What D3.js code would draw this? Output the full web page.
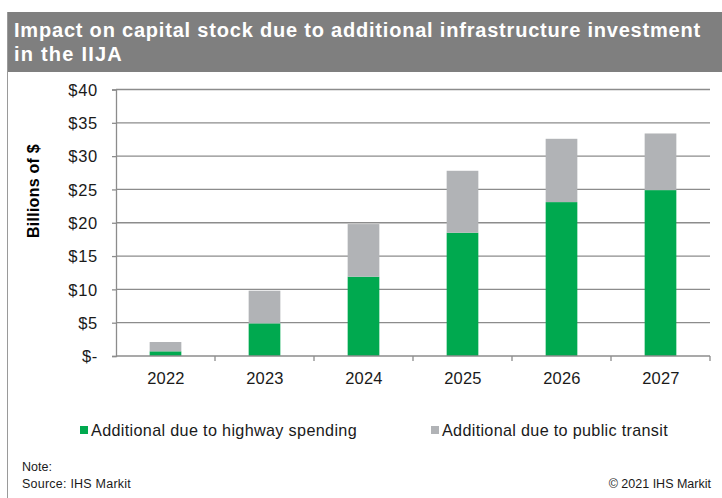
<!DOCTYPE html>
<html>
<head>
<meta charset="utf-8">
<script src="https://cdn.jsdelivr.net/npm/d3@7"></script>
<style>
  html, body { margin: 0; padding: 0; background: #fff; }
  svg { display: block; font-family: "Liberation Sans", Arial, sans-serif; }
</style>
</head>
<body>
<svg id="chart" width="722" height="498"></svg>
<script>
// Years on the category axis
const years = ["2022", "2023", "2024", "2025", "2026", "2027"];
// Billions of dollars added to capital stock
const highway = [0.7, 4.9, 11.9, 18.5, 23.1, 24.9];
const transit = [1.4, 4.9, 7.9, 9.3, 9.5, 8.5];
const seriesNames = ["Additional due to highway spending", "Additional due to public transit"];
const seriesColors = ["#00a94f", "#b1b3b6"];
const yTicks = [0, 5, 10, 15, 20, 25, 30, 35, 40];

const svg = d3.select("#chart");
const W = 722, H = 498;

// Spread a text's letters so it spans the given width
function fitWidth(sel, width) {
  sel.each(function () {
    const n = this.getNumberOfChars();
    const len = this.getComputedTextLength();
    if (n > 1) d3.select(this).attr("letter-spacing", ((width - len) / n).toFixed(3));
  });
}

// Title banner
svg.append("rect").attr("x", 7).attr("y", 12).attr("width", W - 7).attr("height", 60).attr("fill", "#7f7f7f");
svg.append("line").attr("x1", 7.5).attr("x2", 7.5).attr("y1", 12).attr("y2", H)
  .attr("stroke", "#9a9a9a").attr("stroke-width", 1);
const t1 = svg.append("text").attr("x", 14).attr("y", 37).attr("fill", "#fff").attr("font-weight", "bold")
  .attr("font-size", 20).text("Impact on capital stock due to additional infrastructure investment");
const t2 = svg.append("text").attr("x", 14).attr("y", 61).attr("fill", "#fff").attr("font-weight", "bold")
  .attr("font-size", 20).text("in the IIJA");
fitWidth(t1, 687);
fitWidth(t2, 109);

const rows = years.map((y, i) => ({ year: y, highway: highway[i], transit: transit[i] }));
const stack = d3.stack().keys(["highway", "transit"])(rows);

const x = d3.scaleBand().domain(years).range([116, 710]).paddingInner(0.68).paddingOuter(0.34);
const y = d3.scaleLinear().domain([0, 40]).range([356, 89.5]);
const band = d3.scaleBand().domain(years).range([116, 710]);

// Horizontal gridlines
svg.append("g").selectAll("line").data(yTicks.slice(1)).join("line")
  .attr("x1", 116).attr("x2", 710)
  .attr("y1", d => y(d)).attr("y2", d => y(d))
  .attr("stroke", "#8c8c8c").attr("stroke-width", 1.3);

// Stacked bars
svg.append("g").selectAll("g").data(stack).join("g")
  .attr("fill", (d, i) => seriesColors[i])
  .selectAll("rect").data(d => d).join("rect")
  .attr("x", d => x(d.data.year))
  .attr("width", x.bandwidth())
  .attr("y", d => y(d[1]))
  .attr("height", d => y(d[0]) - y(d[1]));

// Y axis
const yAxis = svg.append("g").attr("transform", "translate(116,0)")
  .call(d3.axisLeft(y).tickValues(yTicks).tickSize(4).tickPadding(14)
    .tickFormat(d => d === 0 ? "$-" : "$" + d));
yAxis.select(".domain").attr("stroke", "#8c8c8c").attr("stroke-width", 1.3);
yAxis.selectAll(".tick line").attr("stroke", "#8c8c8c").attr("stroke-width", 1.3);
yAxis.selectAll(".tick text").attr("font-size", 16.5).attr("fill", "#1a1a1a").attr("letter-spacing", 0.7)
  .attr("dy", "0.34em")
  .attr("font-family", "\"Liberation Sans\", Arial, sans-serif");

// X axis with ticks between categories
const xAxisG = svg.append("g").attr("transform", "translate(0,356)");
xAxisG.append("line").attr("x1", 116).attr("x2", 710).attr("y1", 0).attr("y2", 0)
  .attr("stroke", "#8c8c8c").attr("stroke-width", 1.3);
xAxisG.selectAll("line.tk").data(years).join("line").attr("class", "tk")
  .attr("x1", d => band(d) + band.bandwidth())
  .attr("x2", d => band(d) + band.bandwidth())
  .attr("y1", 0).attr("y2", 5)
  .attr("stroke", "#8c8c8c").attr("stroke-width", 1.3);
xAxisG.selectAll("text").data(years).join("text")
  .attr("x", d => band(d) + band.bandwidth() / 2 + 0.5)
  .attr("y", 27.5).attr("text-anchor", "middle").attr("font-size", 16.5).attr("fill", "#1a1a1a")
  .attr("letter-spacing", 0.2)
  .text(d => d);

// Axis title
const yTitle = svg.append("text").attr("transform", "translate(39,191) rotate(-90)")
  .attr("text-anchor", "middle").attr("font-size", 16).attr("font-weight", "bold")
  .text("Billions of $");
fitWidth(yTitle, 94);

// Legend
const legendX = [80, 431];
const legendW = [266, 226];
const legend = svg.append("g").selectAll("g").data(seriesNames).join("g")
  .attr("transform", (d, i) => `translate(${legendX[i]},0)`);
legend.append("rect").attr("x", 0).attr("y", 426).attr("width", 8).attr("height", 8)
  .attr("fill", (d, i) => seriesColors[i]);
legend.append("text").attr("x", 11).attr("y", 435.5).attr("font-size", 16.2).attr("fill", "#1a1a1a")
  .text(d => d)
  .each(function (d, i) { fitWidth(d3.select(this), legendW[i]); });

// Footer
svg.append("text").attr("x", 22).attr("y", 471).attr("font-size", 12.5).attr("fill", "#1a1a1a").text("Note:");
const src = svg.append("text").attr("x", 22).attr("y", 488).attr("font-size", 12.5).attr("fill", "#1a1a1a")
  .text("Source: IHS Markit");
fitWidth(src, 109);
svg.append("text").attr("x", 711).attr("y", 488).attr("font-size", 12.5).attr("text-anchor", "end")
  .attr("fill", "#1a1a1a").text("\u00a9 2021 IHS Markit");
</script>
</body>
</html>
